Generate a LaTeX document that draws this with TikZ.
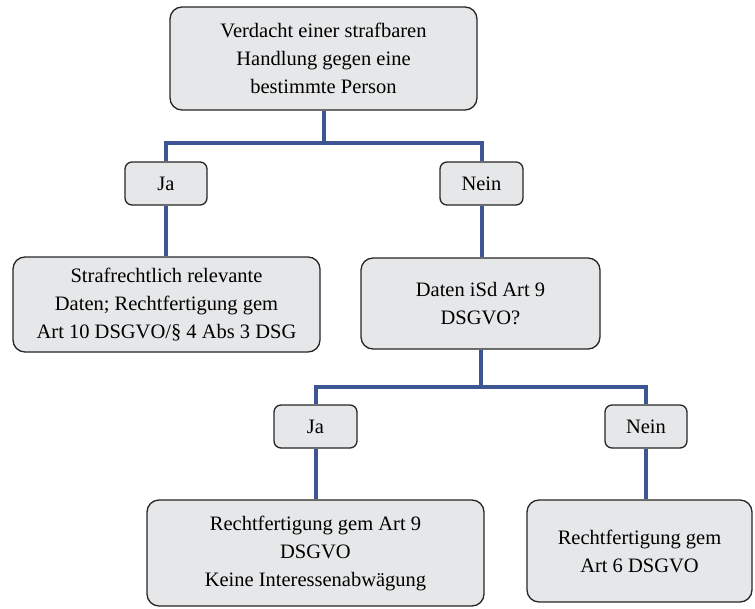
\documentclass[tikz,border=0pt]{standalone}
\usepackage{fontspec}
\setmainfont{Liberation Serif}
\definecolor{boxfill}{HTML}{E6E7E8}
\definecolor{linkblue}{HTML}{3D5592}
\begin{document}
\begin{tikzpicture}[x=1pt,y=-1pt,
  box/.style={draw=black!85, line width=1.3pt, fill=boxfill, rounded corners=12pt,
    align=center, inner sep=0pt, font=\fontsize{20.5}{28}\selectfont},
  small/.style={box, rounded corners=7pt},
  conn/.style={draw=linkblue, line width=4pt}]
\useasboundingbox (0,0) rectangle (755,608);
\node[box, minimum width=307pt, minimum height=103pt] (top) at (323.5,58.5)
  {Verdacht einer strafbaren\\Handlung gegen eine\\bestimmte Person};
\node[small, minimum width=82pt, minimum height=43pt] (ja1) at (166,183.5) {Ja};
\node[small, minimum width=83pt, minimum height=43pt] (nein1) at (481.5,183.5) {Nein};
\node[box, minimum width=307pt, minimum height=95pt] (straf) at (166.5,304.5)
  {Strafrechtlich relevante\\Daten; Rechtfertigung gem\\Art 10 DSGVO/§ 4 Abs 3 DSG};
\node[box, minimum width=239pt, minimum height=91pt] (daten) at (480.5,303.5)
  {Daten iSd Art 9\\DSGVO?};
\node[small, minimum width=83pt, minimum height=43pt] (ja2) at (315.5,426.5) {Ja};
\node[small, minimum width=82pt, minimum height=43pt] (nein2) at (646,426.5) {Nein};
\node[box, minimum width=337pt, minimum height=106pt] (bl) at (315.5,553)
  {Rechtfertigung gem Art 9\\DSGVO\\Keine Interessenabwägung};
\node[box, minimum width=225pt, minimum height=102pt] (br) at (639.5,551)
  {Rechtfertigung gem\\Art 6 DSGVO};
\coordinate (j1) at (323.5,143);
\coordinate (j2) at (480.5,387);
\draw[conn] (top.south) -- (j1);
\draw[conn] (j1) -| (ja1.north);
\draw[conn] (j1) -| (nein1.north);
\draw[conn] (ja1.south) -- (ja1.south |- straf.north);
\draw[conn] (nein1.south) -- (nein1.south |- daten.north);
\draw[conn] (daten.south) -- (j2);
\draw[conn] (j2) -| (ja2.north);
\draw[conn] (j2) -| (nein2.north);
\draw[conn] (ja2.south) -- (ja2.south |- bl.north);
\draw[conn] (nein2.south) -- (nein2.south |- br.north);
\end{tikzpicture}
\end{document}
